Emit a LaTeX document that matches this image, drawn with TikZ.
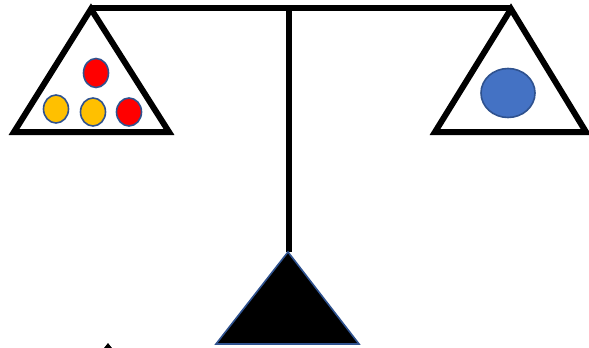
\documentclass[tikz,border=0pt]{standalone}
\usetikzlibrary{shapes.geometric}
\definecolor{rimblue}{HTML}{2F528F}
\definecolor{ballred}{HTML}{FF0000}
\definecolor{ballyellow}{HTML}{FFC000}
\definecolor{ballblue}{HTML}{4472C4}
\tikzset{
  pan/.style={draw=black, line width=6pt, line join=miter, fill=white},
  ball/.style={draw=rimblue, line width=1.6pt},
}
\begin{document}
\begin{tikzpicture}[x=1pt,y=-1pt]
\useasboundingbox (0,0) rectangle (589,348);
% beam and post
\coordinate (bl) at (91,8);
\coordinate (br) at (511,8);
\coordinate (ptop) at (289,8);
\coordinate (pbot) at (289,252);
\draw[line width=6pt] (bl) -- (br);
\draw[line width=6pt] (ptop) -- (pbot);
% pans
\draw[pan] (91,9) -- (169,132) -- (14,132) -- cycle;
\draw[pan] (511,9) -- (586,132) -- (435,132) -- cycle;
% fulcrum
\draw[draw=rimblue, fill=black, line width=1.6pt] (288,252) -- (359,344) -- (216,344) -- cycle;
% balls left
\fill[ballred] (96,73) ellipse [x radius=12.5, y radius=14.5];
\draw[ball] (96,73) ellipse [x radius=12.5, y radius=14.5];
\fill[ballyellow] (56,109) ellipse [x radius=12.5, y radius=14];
\draw[ball] (56,109) ellipse [x radius=12.5, y radius=14];
\fill[ballyellow] (93,112) ellipse [x radius=12.5, y radius=14];
\draw[ball] (93,112) ellipse [x radius=12.5, y radius=14];
\fill[ballred] (129,112) ellipse [x radius=12.5, y radius=14];
\draw[ball] (129,112) ellipse [x radius=12.5, y radius=14];
% ball right
\fill[ballblue] (508,93) ellipse [x radius=27, y radius=24.5];
\draw[ball] (508,93) ellipse [x radius=27, y radius=24.5];
% tiny tip at bottom
\fill[black] (108,343) -- (112,348) -- (104,348) -- cycle;
\end{tikzpicture}
\end{document}
